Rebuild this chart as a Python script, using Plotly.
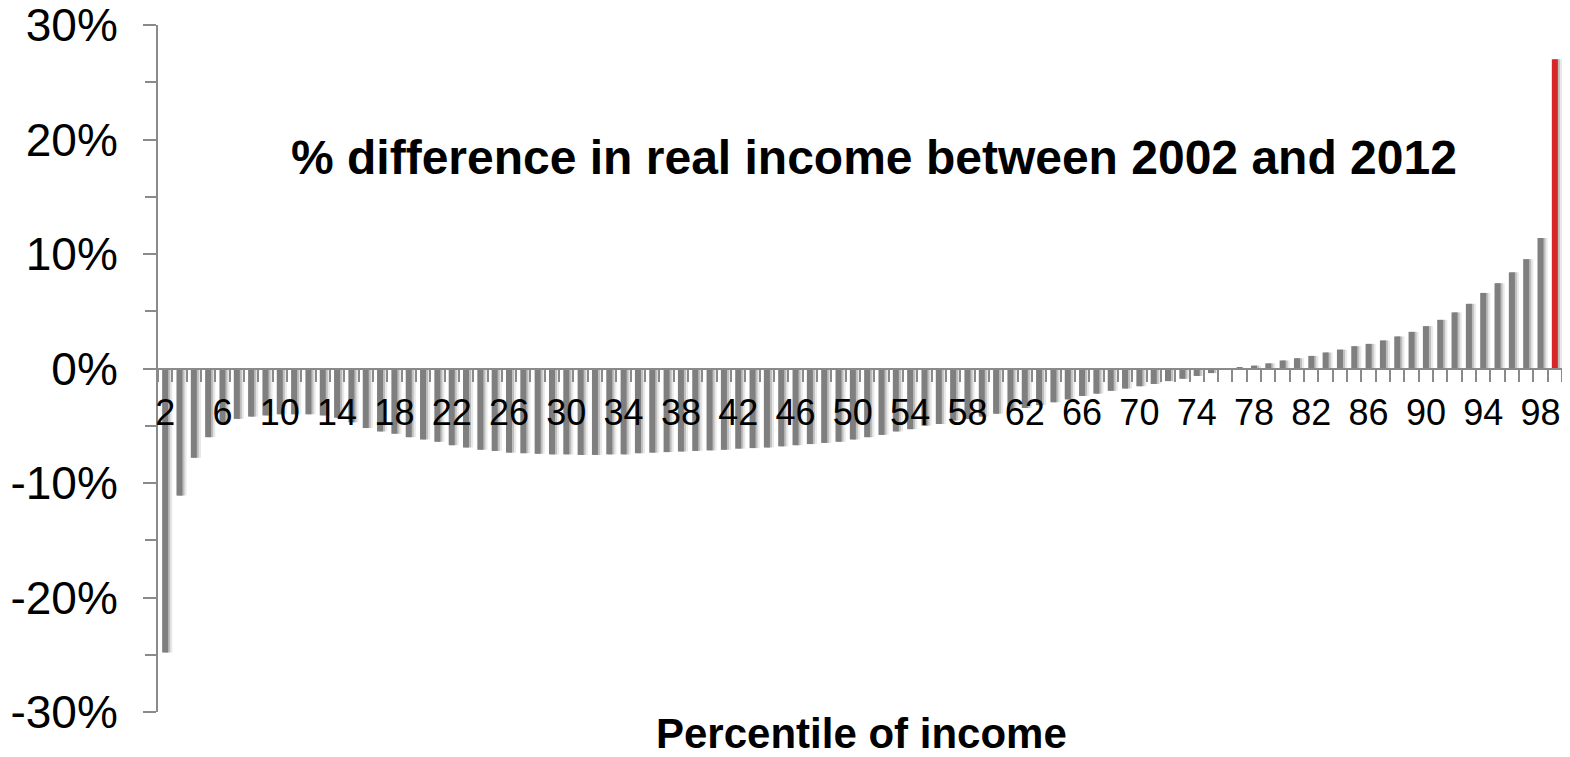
import plotly.graph_objects as go

# percentile of income (2..99) and % change in real income 2002-2012
percentiles = list(range(2, 100))
pct_change = [
    -24.8, -11.1, -7.8, -6.0, -4.9, -4.4, -4.2, -4.1, -4.0, -4.0,
    -4.0, -4.1, -4.3, -4.7, -5.2, -5.5, -5.7, -6.0, -6.2, -6.4,
    -6.7, -6.9, -7.1, -7.2, -7.35, -7.4, -7.45, -7.5, -7.5, -7.55,
    -7.55, -7.5, -7.5, -7.4, -7.35, -7.3, -7.25, -7.2, -7.15, -7.1,
    -7.0, -6.95, -6.9, -6.8, -6.7, -6.6, -6.5, -6.4, -6.2, -6.0,
    -5.8, -5.5, -5.3, -5.0, -4.85, -4.55, -4.4, -4.2, -3.95, -3.7,
    -3.45, -3.2, -2.95, -2.7, -2.4, -2.2, -1.95, -1.75, -1.55, -1.35,
    -1.1, -0.9, -0.65, -0.4, -0.1, 0.05, 0.25, 0.45, 0.7, 0.9,
    1.1, 1.4, 1.65, 1.95, 2.15, 2.45, 2.8, 3.2, 3.7, 4.25,
    4.9, 5.65, 6.6, 7.45, 8.4, 9.55, 11.4, 27.0,
]
x_ticks = list(range(2, 100, 4))
y_ticks = list(range(-30, 31, 10))
y_labels = [f"{v}%" for v in y_ticks]
highlight = 99

FONT = "Liberation Sans, Arial, sans-serif"
AXIS_GREY = "#8a8a8a"
bar_colors = ["#d7262b" if p == highlight else "#7f7f7f" for p in percentiles]

fig = go.Figure()
# soft drop shadow to the right of each bar
fig.add_trace(go.Bar(x=percentiles, y=pct_change, width=0.55, offset=-0.05,
                     marker=dict(color="rgba(0,0,0,0.09)", line_width=0), hoverinfo="skip"))
fig.add_trace(go.Bar(x=percentiles, y=pct_change, width=0.45, offset=-0.1,
                     marker=dict(color="rgba(0,0,0,0.18)", line_width=0), hoverinfo="skip"))
fig.add_trace(go.Bar(x=percentiles, y=pct_change, width=0.42, offset=-0.21,
                     marker=dict(color=bar_colors, line_width=0)))

# page body keeps its default 8px margin, so the figure is sized to fit inside it (no scrollbars)
fig.update_layout(
    width=1554,
    height=741,
    barmode="overlay",
    showlegend=False,
    plot_bgcolor="white",
    paper_bgcolor="white",
    margin=dict(l=150, r=0, t=17, b=37),
    font=dict(family=FONT, color="black"),
)
fig.update_xaxes(
    range=[1.5, 99.5],
    automargin=False,
    anchor="free",
    position=0.5,
    tickmode="array",
    tickvals=x_ticks,
    ticks="outside",
    ticklen=12,
    tickcolor="rgba(0,0,0,0)",
    ticklabelstandoff=0,
    ticklabeloverflow="allow",
    tickfont=dict(size=36),
    showline=True,
    linecolor=AXIS_GREY,
    linewidth=2,
    showgrid=False,
    zeroline=False,
    minor=dict(tick0=1.5, dtick=1, ticks="outside", ticklen=12, tickcolor=AXIS_GREY, tickwidth=2),
)
fig.update_yaxes(
    range=[-30, 30],
    automargin=False,
    tickmode="array",
    tickvals=y_ticks,
    ticktext=y_labels,
    ticks="outside",
    ticklen=13,
    tickwidth=2,
    tickcolor=AXIS_GREY,
    tickfont=dict(size=46),
    ticklabelstandoff=16,
    ticklabeloverflow="allow",
    showline=True,
    linecolor=AXIS_GREY,
    linewidth=2,
    showgrid=False,
    zeroline=False,
    minor=dict(dtick=5, tick0=0, ticks="outside", ticklen=11, tickcolor=AXIS_GREY, tickwidth=2),
)

fig.add_annotation(
    text="<b>% difference in real income between 2002 and 2012</b>",
    xref="paper", yref="paper", x=0.5103, y=0.807,
    xanchor="center", yanchor="middle", showarrow=False,
    font=dict(size=48, family=FONT, color="black"),
)
fig.add_annotation(
    text="<b>Percentile of income</b>",
    xref="paper", yref="paper", x=0.5014, y=0.006,
    xanchor="center", yanchor="top", showarrow=False,
    font=dict(size=42, family=FONT, color="black"),
)

fig.write_html("out.html")
